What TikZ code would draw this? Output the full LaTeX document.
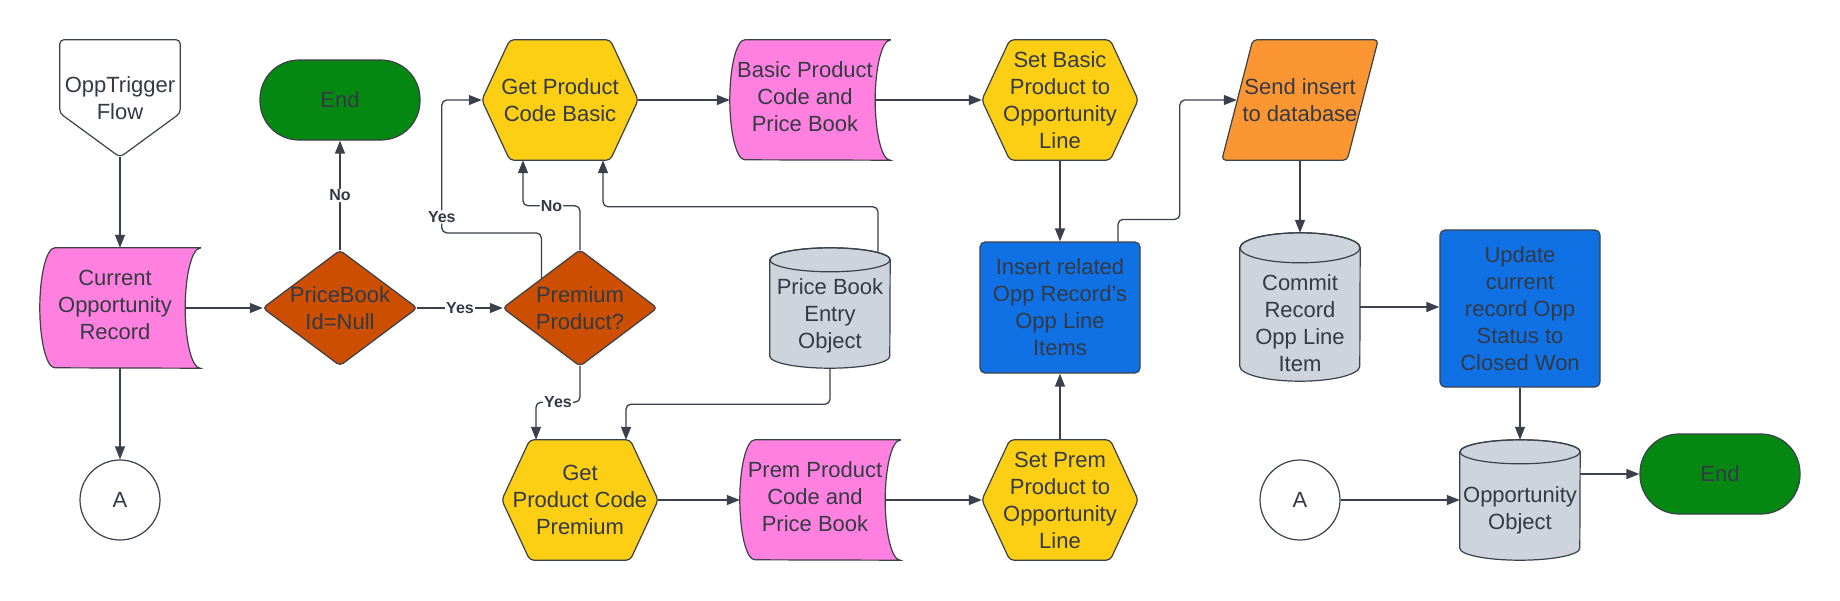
\documentclass[tikz,border=0pt]{standalone}
\usepackage{fontspec}
\setmainfont{Liberation Sans}
\usetikzlibrary{arrows.meta,backgrounds,calc}
\definecolor{txt}{RGB}{51,58,69}
\definecolor{ln}{RGB}{58,65,74}
\definecolor{pnk}{RGB}{255,128,223}
\definecolor{ylw}{RGB}{252,206,20}
\definecolor{brn}{RGB}{204,78,0}
\definecolor{grn}{RGB}{5,136,18}
\definecolor{blu}{RGB}{16,113,229}
\definecolor{orng}{RGB}{252,150,50}
\definecolor{cgray}{RGB}{206,212,219}
\newcommand{\hexS}[2]{\path[outl, fill=#2] ([xshift=28pt]#1.north west) -- ([xshift=-28pt]#1.north east) -- (#1.east) -- ([xshift=-28pt]#1.south east) -- ([xshift=28pt]#1.south west) -- (#1.west) -- cycle;}
\newcommand{\diaS}[2]{\path[outl, fill=#2] (#1.north) -- (#1.east) -- (#1.south) -- (#1.west) -- cycle;}
\newcommand{\sdS}[2]{\path[outl, rounded corners=0pt, fill=#2] (#1.north east) -- ([xshift=15pt]#1.north west) arc[start angle=90, end angle=270, x radius=15pt, y radius=60pt] -- (#1.south east) arc[start angle=270, end angle=90, x radius=15pt, y radius=60pt] -- cycle;}
\newcommand{\cylS}[3]{\path[outl, rounded corners=0pt, fill=cgray] ([yshift=-#3pt]#1.north west) -- ([yshift=#3pt]#1.south west) arc[start angle=180, end angle=360, x radius=#2pt, y radius=#3pt] -- ([yshift=-#3pt]#1.north east) arc[start angle=0, end angle=180, x radius=#2pt, y radius=#3pt] -- cycle;
 \draw[outl, rounded corners=0pt] ([yshift=-#3pt]#1.north) ellipse[x radius=#2pt, y radius=#3pt];}
\begin{document}
\begin{tikzpicture}[x=1pt,y=-1pt,
  bx/.style={inner sep=0pt, align=center, text=txt, font=\fontsize{22}{27}\selectfont},
  outl/.style={draw=ln, line width=1.2pt, rounded corners=4pt},
  conn/.style={draw=ln, line width=1.3pt, rounded corners=5pt, -{Triangle[length=13pt,width=10pt]}},
  lbl/.style={fill=white, font=\bfseries\fontsize{16}{18}\selectfont, text=txt, inner sep=1pt},
  term/.style={bx, draw=ln, line width=1.2pt, fill=grn, rounded corners=39pt, minimum width=160pt, minimum height=80pt},
  proc/.style={bx, draw=ln, line width=1.2pt, fill=blu, rounded corners=5pt, minimum width=160pt},
  conc/.style={bx, circle, draw=ln, line width=1.2pt, fill=white, minimum size=80pt}]
\useasboundingbox (0,0) rectangle (1840,600);
% nodes
\node[bx, minimum width=120pt, minimum height=117pt] (trig) at (120,98.5) {OppTrigger\\Flow};
\node[term] (end1) at (340,100) {End};
\node[bx, minimum width=160pt, minimum height=120pt, label={[bx, xshift=-5pt, yshift=3pt]center:{Current\\Opportunity\\Record}}] (cur) at (120,308) {};
\node[bx, minimum width=154pt, minimum height=115pt] (pb) at (340,308) {PriceBook\\Id=Null};
\node[conc] (a1) at (120,500) {A};
\node[bx, minimum width=156pt, minimum height=120pt] (gpb) at (560,100) {Get Product\\Code Basic};
\node[bx, minimum width=154pt, minimum height=116pt] (prem) at (580,308) {Premium\\Product?};
\node[bx, minimum width=160pt, minimum height=120pt, label={[bx, xshift=-5pt, yshift=3pt]center:{Basic Product\\Code and\\Price Book}}] (bpc) at (810,100) {};
\node[bx, minimum width=120pt, minimum height=120pt, label={[bx, yshift=-8pt]center:{Price Book\\Entry\\Object}}] (pbe) at (830,308) {};
\node[bx, minimum width=156pt, minimum height=120pt] (gpp) at (580,500) {Get\\Product Code\\Premium};
\node[bx, minimum width=160pt, minimum height=120pt, label={[bx, xshift=-5pt, yshift=3pt]center:{Prem Product\\Code and\\Price Book}}] (ppc) at (820,500) {};
\node[bx, minimum width=156pt, minimum height=120pt] (sbp) at (1060,100) {Set Basic\\Product to\\Opportunity\\Line};
\node[proc, minimum height=131pt] (ins) at (1060,307.5) {Insert related\\Opp Record's\\Opp Line\\Items};
\node[bx, minimum width=156pt, minimum height=120pt] (spp) at (1060,500) {Set Prem\\Product to\\Opportunity\\Line};
\node[bx, minimum width=156pt, minimum height=120pt] (send) at (1300,100) {Send insert\\to database};
\node[bx, minimum width=120pt, minimum height=148pt, label={[bx, yshift=-16pt]center:{Commit\\Record\\Opp Line\\Item}}] (com) at (1300,307) {};
\node[proc, minimum height=157pt] (upd) at (1520,308.5) {Update\\current\\record Opp\\Status to\\Closed Won};
\node[conc] (a2) at (1300,500) {A};
\node[bx, minimum width=120pt, minimum height=120pt, label={[bx, yshift=-10pt]center:{Opportunity\\Object}}] (oo) at (1520,500) {};
\node[term] (end2) at (1720,474) {End};
% shapes
\begin{pgfonlayer}{background}
\path[outl, fill=white] (trig.north west) -- (trig.north east) -- ([yshift=44pt]trig.south east) -- (trig.south) -- ([yshift=44pt]trig.south west) -- cycle;
\sdS{cur}{pnk}
\sdS{bpc}{pnk}
\sdS{ppc}{pnk}
\diaS{pb}{brn}
\diaS{prem}{brn}
\hexS{gpb}{ylw}
\hexS{gpp}{ylw}
\hexS{sbp}{ylw}
\hexS{spp}{ylw}
\path[outl, fill=orng] ([xshift=31pt]send.north west) -- (send.north east) -- ([xshift=-31pt]send.south east) -- (send.south west) -- cycle;
\cylS{pbe}{60}{12}
\cylS{com}{60}{15}
\cylS{oo}{60}{12}
\end{pgfonlayer}
% connectors
\draw[conn] (trig.south) -- (cur.north);
\draw[conn] ([xshift=-15pt]cur.east) -- (pb.west);
\draw[conn] (cur.south) -- (a1.north);
\draw[conn] (pb.north) -- node[lbl]{No} (end1.south);
\draw[conn] (pb.east) -- node[lbl]{Yes} (prem.west);
\draw[conn] (prem.north) -- ++(0,-44) -| node[lbl,pos=0.25]{No} ([xshift=-37pt]gpb.south);
\draw[conn] ($(prem.north)!0.5!(prem.west)$) -- ++(0,-46) -| node[lbl,pos=0.56]{Yes} ([xshift=-40pt]gpb.west) -- (gpb.west);
\draw[conn] ([xshift=48pt,yshift=-5pt]pbe.north) -- ++(0,-46) -| ([xshift=43pt]gpb.south);
\draw[conn] (pbe.south) -- ++(0,36) -| ([xshift=46pt]gpp.north);
\draw[conn] (prem.south) -- ++(0,36) -| node[lbl,pos=0.25]{Yes} ([xshift=-44pt]gpp.north);
\draw[conn] (gpb.east) -- (bpc.west);
\draw[conn] ([xshift=-15pt]bpc.east) -- (sbp.west);
\draw[conn] (sbp.south) -- (ins.north);
\draw[conn] ([xshift=58pt]ins.north) -- ++(0,-22) -| ([xshift=-42pt]send.west) -- ([xshift=15pt]send.west);
\draw[conn] (send.south) -- (com.north);
\draw[conn] (com.east) -- (com.east -| upd.west);
\draw[conn] (upd.south) -- (oo.north);
\draw[conn] (a2.east) -- (oo.west);
\draw[conn] ([yshift=26pt]oo.east) -- (end2.west);
\draw[conn] (spp.north) -- (ins.south);
\draw[conn] (gpp.east) -- (ppc.west);
\draw[conn] ([xshift=-15pt]ppc.east) -- (spp.west);
\end{tikzpicture}
\end{document}
